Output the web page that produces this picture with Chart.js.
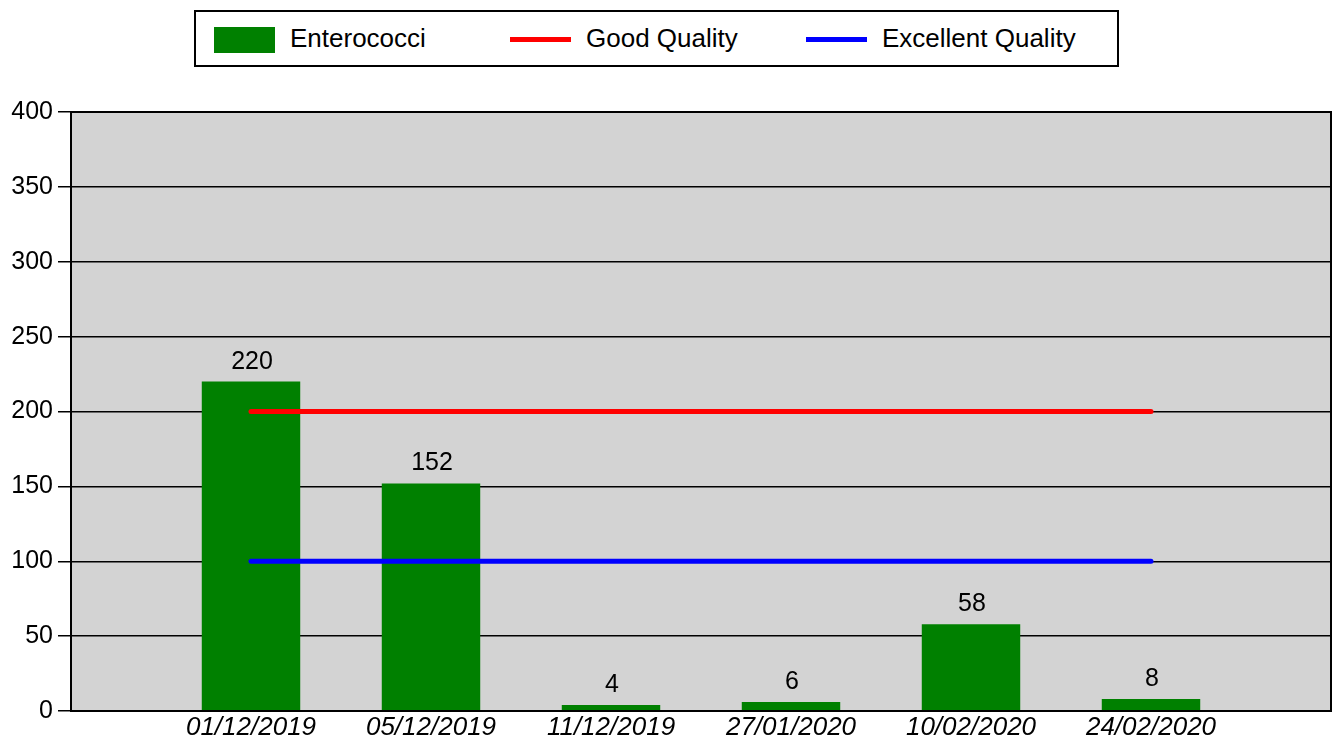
<!DOCTYPE html>
<html>
<head>
<meta charset="utf-8">
<script src="https://cdn.jsdelivr.net/npm/chart.js@4/dist/chart.umd.min.js"></script>
<style>
  body { margin: 0; background: #fff; font-family: "Liberation Sans", Arial, sans-serif; }
  #wrap { position: relative; width: 1339px; height: 739px; }
  #legend { position: absolute; left: 194px; top: 10px; width: 921px; height: 53px;
            border: 2px solid #000; background: #fff; }
  .item { position: absolute; top: 0; height: 53px; font-size: 26px; line-height: 53px; color: #000; }
  .swatch { position: absolute; }
</style>
</head>
<body>
<div id="wrap">
  <canvas id="myChart" width="1339" height="739"></canvas>
  <div id="legend"></div>
</div>
<script>
var dates = ["01/12/2019", "05/12/2019", "11/12/2019", "27/01/2020", "10/02/2020", "24/02/2020"];
var enterococci = [220, 152, 4, 6, 58, 8];
var goodQuality = [200, 200, 200, 200, 200, 200];
var excellentQuality = [100, 100, 100, 100, 100, 100];
var yTicks = [0, 50, 100, 150, 200, 250, 300, 350, 400];

// empty slot on each side of the dates
var xLabels = [""].concat(dates, [""]);
function pad(arr) { return [null].concat(arr, [null]); }

// legend drawn as html, fixed spacing like the original
var legendItems = [
    { text: "Enterococci", color: "#008000", type: "box" },
    { text: "Good Quality", color: "#ff0000", type: "line" },
    { text: "Excellent Quality", color: "#0000ff", type: "line" }
];
var legend = document.getElementById("legend");
legendItems.forEach(function (it, i) {
    var left = 18 + i * 296;
    var sw = document.createElement("div");
    sw.className = "swatch";
    sw.style.left = left + "px";
    sw.style.width = "61px";
    sw.style.background = it.color;
    if (it.type === "box") { sw.style.top = "15px"; sw.style.height = "26px"; }
    else { sw.style.top = "25px"; sw.style.height = "5px"; }
    legend.appendChild(sw);
    var tx = document.createElement("div");
    tx.className = "item";
    tx.style.left = (left + 76) + "px";
    tx.textContent = it.text;
    legend.appendChild(tx);
});

var plotBg = {
    id: "plotBg",
    beforeDraw: function (chart) {
        var a = chart.chartArea, c = chart.ctx;
        c.save();
        c.fillStyle = "#d3d3d3";
        c.fillRect(a.left, a.top, a.right - a.left, a.bottom - a.top);
        c.restore();
    },
    afterDraw: function (chart) {
        var a = chart.chartArea, c = chart.ctx;
        c.save();
        c.strokeStyle = "#000";
        c.lineWidth = 2;
        c.strokeRect(a.left, a.top, a.right - a.left, a.bottom - a.top);
        c.restore();
    }
};

var barValues = {
    id: "barValues",
    afterDatasetsDraw: function (chart) {
        var c = chart.ctx;
        var meta = chart.getDatasetMeta(0);
        c.save();
        c.font = "25px 'Liberation Sans', Arial, sans-serif";
        c.fillStyle = "#000";
        c.textAlign = "center";
        c.textBaseline = "alphabetic";
        meta.data.forEach(function (bar, i) {
            var v = chart.data.datasets[0].data[i];
            if (v === null) return;
            c.fillText(String(v), bar.x + 1, bar.y - 13);
        });
        c.restore();
    }
};

new Chart(document.getElementById("myChart"), {
    type: "bar",
    data: {
        labels: xLabels,
        datasets: [{
            type: "bar",
            label: "Enterococci",
            data: pad(enterococci),
            backgroundColor: "#008000",
            categoryPercentage: 1,
            barPercentage: 0.547,
            order: 2
        }, {
            type: "line",
            label: "Good Quality",
            data: pad(goodQuality),
            borderColor: "#ff0000",
            borderWidth: 5,
            pointRadius: 0,
            borderCapStyle: "round",
            order: 1
        }, {
            type: "line",
            label: "Excellent Quality",
            data: pad(excellentQuality),
            borderColor: "#0000ff",
            borderWidth: 5,
            pointRadius: 0,
            borderCapStyle: "round",
            order: 1
        }]
    },
    options: {
        responsive: false,
        animation: false,
        layout: { padding: { top: 112, right: 8, left: 0, bottom: 0 } },
        plugins: {
            legend: { display: false },
            tooltip: { enabled: false }
        },
        scales: {
            x: {
                type: "category",
                offset: false,
                grid: { display: false },
                border: { display: false },
                ticks: {
                    autoSkip: false,
                    maxRotation: 0,
                    padding: -4,
                    color: "#000",
                    font: { family: "'Liberation Sans', Arial, sans-serif", size: 26, style: "italic", lineHeight: 1 }
                },
                afterFit: function (s) { s.height = 28; }
            },
            y: {
                min: 0,
                max: 400,
                afterBuildTicks: function (s) {
                    s.ticks = yTicks.map(function (v) { return { value: v }; });
                },
                grid: { color: "#000", lineWidth: 1.5, tickLength: 13 },
                border: { display: false },
                ticks: {
                    padding: 5,
                    color: "#000",
                    font: { family: "'Liberation Sans', Arial, sans-serif", size: 25 }
                },
                afterFit: function (s) { s.width = 71; }
            }
        }
    },
    plugins: [plotBg, barValues]
});
</script>
</body>
</html>
